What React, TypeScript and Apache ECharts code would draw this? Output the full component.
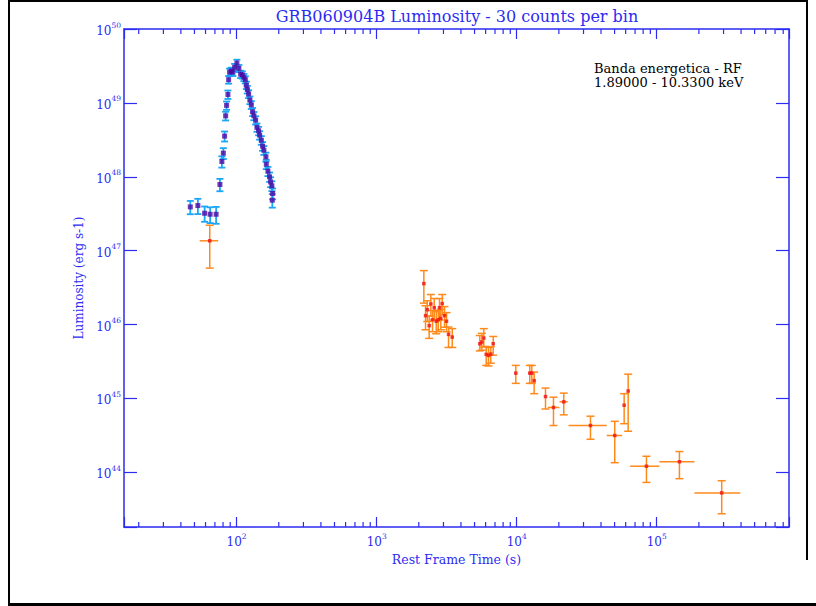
import { useEffect, useRef } from "react";
import * as echarts from "echarts";

// ---- axis ranges ----
const X_MIN = 15.7;
const X_MAX = 8.8e5;
const Y_MIN = 1.82e43;
const Y_MAX = 1e50;

// minor tick positions on the time axis (2..9 x each decade)
const minorTicks = [
  20, 30, 40, 50, 60, 70, 80, 90,
  200, 300, 400, 500, 600, 700, 800, 900,
  2000, 3000, 4000, 5000, 6000, 7000, 8000, 9000,
  20000, 30000, 40000, 50000, 60000, 70000, 80000, 90000,
  200000, 300000, 400000, 500000, 600000, 700000, 800000,
];

// ---- prompt emission (purple points, cyan error bars) ----
const batTime = [
  46.7, 52.9, 59.1, 64.7, 71.4, 76.0, 78.5, 80.4, 82.1, 83.5, 84.8, 86.7, 87.7,
  89.1, 91.7, 94.1, 96.8, 100.5, 103.8, 106.8, 109.8, 112.7, 115.4, 117.3, 119.2,
  121.8, 124.4, 127.3, 130.1, 132.9, 136.7, 139.6, 143.6, 146.0, 150.1, 153.3,
  156.6, 161.9, 162.9, 167.3, 172.0, 174.9, 178.6, 180.7, 179.8,
];
const batLum = [
  3.91e47, 4.08e47, 3.21e47, 3.11e47, 3.11e47, 7.87e47, 1.61e48, 2.09e48, 3.55e48,
  6.68e48, 9.25e48, 1.3e49, 2.06e49, 2.61e49, 2.7e49, 2.61e49, 3.03e49, 3.46e49,
  2.93e49, 2.45e49, 2.4e49, 2.22e49, 2.06e49, 1.74e49, 1.52e49, 1.32e49, 1.09e49,
  9.42e48, 7.57e48, 6.68e48, 5.84e48, 4.66e48, 4.19e48, 3.66e48, 3.13e48, 2.6e48,
  2.29e48, 1.86e48, 1.48e48, 1.19e48, 9.98e47, 8.53e47, 7.54e47, 5.94e47, 4.82e47,
];
const batErr = [
  0.8e47, 0.95e47, 0.75e47, 0.75e47, 0.8e47, 1.5e47, 2.8e47, 3.5e47, 5.5e47,
  9e47, 1.2e48, 1.7e48, 2.4e48, 3.0e48, 3.0e48, 3.0e48, 3.4e48, 3.8e48,
  3.3e48, 2.8e48, 2.7e48, 2.5e48, 2.3e48, 2.0e48, 1.8e48, 1.6e48, 1.3e48,
  1.15e48, 9.5e47, 8.5e47, 7.5e47, 6.0e47, 5.5e47, 4.8e47, 4.2e47, 3.5e47,
  3.1e47, 2.6e47, 2.1e47, 1.7e47, 1.45e47, 1.3e47, 1.15e47, 1.0e47, 1.0e47,
];

// ---- afterglow (red points, orange error bars) ----
const xrtTime = [
  2173, 2438, 2297, 2234, 2373, 2577, 2812, 2939, 2506, 2663, 2753, 2872, 3053,
  3155, 3261, 3465, 5453, 5634, 5823, 6057, 6290, 6532, 6797, 9854, 12400, 12820,
  13330, 16060, 18310, 21690, 33640, 50130, 58530, 62520, 84440, 145200, 291000,
  64.3,
];
const xrtTimeLo = [
  null, null, null, null, null, null, null, null, null, null, null, null, null,
  null, null, null, null, null, null, null, null, null, null, null, null, null,
  null, null, 16670, 20210, 23440, 43950, null, null, 64570, 104500, 185800,
  54.5,
];
const xrtTimeHi = [
  null, null, null, null, null, null, null, null, null, null, null, null, null,
  null, null, null, null, null, null, null, null, null, null, null, null, null,
  null, null, 20210, 23160, 43950, 56620, null, null, 104500, 185800, 395400,
  73.9,
];
const xrtLum = [
  3.58e46, 1.9e46, 1.59e46, 1.32e46, 9.67e45, 1.69e46, 1.69e46, 1.92e46, 1.16e46,
  1.11e46, 1.16e46, 1.21e46, 1.32e46, 1.11e46, 7.36e45, 6.77e45, 5.5e45, 5.8e45,
  6.57e45, 3.95e45, 3.83e45, 3.98e45, 5.5e45, 2.2e45, 2.2e45, 2.2e45, 1.74e45,
  1.06e45, 7.55e44, 9.0e44, 4.3e44, 3.15e44, 8.1e44, 1.26e45, 1.21e44, 1.39e44,
  5.27e43, 1.36e47,
];
const xrtLumLo = [
  1.95e46, 1.3e46, 1.1e46, 0.85e46, 6.5e45, 1.15e46, 1.15e46, 1.35e46, 0.8e46,
  0.75e46, 0.8e46, 0.85e46, 0.92e46, 0.8e46, 4.9e45, 4.9e45, 4.4e45, 4.5e45,
  4.95e45, 2.8e45, 2.75e45, 3.0e45, 3.85e45, 1.6e45, 1.6e45, 1.6e45, 1.16e45,
  7.2e44, 4.3e44, 6.0e44, 2.8e44, 1.35e44, 4.55e44, 3.6e44, 7.3e43, 8.2e43,
  2.75e43, 5.8e46,
];
const xrtLumHi = [
  5.37e46, 2.55e46, 2.1e46, 1.8e46, 1.3e46, 2.25e46, 2.25e46, 2.55e46, 1.55e46,
  1.5e46, 1.55e46, 1.6e46, 1.75e46, 1.45e46, 9.25e45, 8.8e45, 7.1e45, 7.6e45,
  8.8e45, 5.05e45, 4.9e45, 5.0e45, 6.9e45, 2.8e45, 2.8e45, 2.8e45, 2.27e45,
  1.38e45, 1.04e45, 1.18e45, 5.75e44, 4.9e44, 1.16e45, 2.13e45, 1.65e44, 1.91e44,
  7.7e43, 2.21e47,
];

const AXIS_BLUE = "#2b2bf2";
const FONT = "DejaVu Serif";

const powerLabel = (v: number) => {
  const e = Math.log10(v);
  const r = Math.round(e);
  return Math.abs(e - r) < 1e-6 ? `{b|10}{s|${r}}` : "";
};

const labelRich = {
  b: { fontSize: 12, fontFamily: FONT, color: AXIS_BLUE, lineHeight: 16, verticalAlign: "bottom" },
  s: { fontSize: 7.5, fontFamily: FONT, color: AXIS_BLUE, lineHeight: 16, verticalAlign: "top" },
};

// error bar glyph: vertical bar with caps, optional horizontal bar
function errorBarRenderer(color: string, width: number, capHalf: number) {
  return (_params: any, api: any) => {
    const t = api.value(0);
    const L = api.value(1);
    const tLo = api.value(2);
    const tHi = api.value(3);
    const lLo = api.value(4);
    const lHi = api.value(5);
    const style = { stroke: color, lineWidth: width };
    const top = api.coord([t, lHi]);
    const bot = api.coord([t, lLo]);
    const children: any[] = [
      { type: "line", shape: { x1: top[0], y1: top[1], x2: bot[0], y2: bot[1] }, style },
      { type: "line", shape: { x1: top[0] - capHalf, y1: top[1], x2: top[0] + capHalf, y2: top[1] }, style },
      { type: "line", shape: { x1: bot[0] - capHalf, y1: bot[1], x2: bot[0] + capHalf, y2: bot[1] }, style },
    ];
    if (tHi > tLo) {
      const l = api.coord([tLo, L]);
      const r = api.coord([tHi, L]);
      children.push({ type: "line", shape: { x1: l[0], y1: l[1], x2: r[0], y2: r[1] }, style });
    }
    return { type: "group", children };
  };
}

export default function App() {
  const ref = useRef<HTMLDivElement>(null);

  useEffect(() => {
    if (!ref.current) return;
    const chart = echarts.init(ref.current, null, { renderer: "svg" });

    const batBars = batTime.map((t, i) => [t, batLum[i], t, t, batLum[i] - batErr[i], batLum[i] + batErr[i]]);
    const batPts = batTime.map((t, i) => [t, batLum[i]]);
    const xrtBars = xrtTime.map((t, i) => [
      t,
      xrtLum[i],
      xrtTimeLo[i] ?? t,
      xrtTimeHi[i] ?? t,
      xrtLumLo[i],
      xrtLumHi[i],
    ]);
    const xrtPts = xrtTime.map((t, i) => [t, xrtLum[i]]);

    const axisLine = { show: true, lineStyle: { color: AXIS_BLUE, width: 1.5 } };
    const tickStyle = { color: AXIS_BLUE, width: 1.2 };

    chart.setOption({
      animation: false,
      backgroundColor: "#ffffff",
      grid: { left: 124, top: 29, width: 665, height: 498, containLabel: false },
      xAxis: [
        {
          type: "log",
          min: X_MIN,
          max: X_MAX,
          position: "bottom",
          axisLine,
          axisTick: { inside: true, length: 10, lineStyle: tickStyle },
          splitLine: { show: false },
          axisLabel: { formatter: powerLabel, margin: 5, rich: labelRich, hideOverlap: false },
          name: "Rest Frame Time (s)",
          nameLocation: "middle",
          nameGap: 20,
          nameTextStyle: { color: AXIS_BLUE, fontFamily: FONT, fontSize: 12.5 },
        },
        {
          type: "log",
          min: X_MIN,
          max: X_MAX,
          position: "top",
          axisLine,
          axisTick: { inside: true, length: 10, lineStyle: tickStyle },
          splitLine: { show: false },
          axisLabel: { show: false },
        },
      ],
      yAxis: [
        {
          type: "log",
          min: Y_MIN,
          max: Y_MAX,
          position: "left",
          axisLine,
          axisTick: { inside: true, length: 13, lineStyle: tickStyle },
          splitLine: { show: false },
          axisLabel: { formatter: powerLabel, margin: 3, rich: labelRich, hideOverlap: false },
          name: "Luminosity (erg s-1)",
          nameLocation: "middle",
          nameGap: 33,
          nameRotate: 90,
          nameTextStyle: { color: AXIS_BLUE, fontFamily: FONT, fontSize: 12 },
        },
        {
          type: "log",
          min: Y_MIN,
          max: Y_MAX,
          position: "right",
          axisLine,
          axisTick: { inside: true, length: 13, lineStyle: tickStyle },
          splitLine: { show: false },
          axisLabel: { show: false },
        },
      ],
      graphic: [
        { type: "rect", shape: { x: 8, y: 0, width: 800, height: 2 }, style: { fill: "#000" } },
        { type: "rect", shape: { x: 8, y: 0, width: 2, height: 606 }, style: { fill: "#000" } },
        { type: "rect", shape: { x: 806, y: 0, width: 2, height: 560 }, style: { fill: "#000" } },
        { type: "rect", shape: { x: 8, y: 603, width: 808, height: 3 }, style: { fill: "#000" } },
        {
          type: "text",
          x: 457,
          y: 16,
          style: {
            text: "GRB060904B Luminosity - 30 counts per bin",
            fill: AXIS_BLUE,
            font: `16px '${FONT}'`,
            textAlign: "center",
            textVerticalAlign: "middle",
          },
        },
        {
          type: "text",
          x: 594,
          y: 68,
          style: { text: "Banda energetica - RF", fill: "#000", font: `13px '${FONT}'`, textVerticalAlign: "middle" },
        },
        {
          type: "text",
          x: 594,
          y: 82,
          style: { text: "1.89000 - 10.3300 keV", fill: "#000", font: `13px '${FONT}'`, textVerticalAlign: "middle" },
        },
      ],
      series: [
        {
          type: "custom",
          name: "minor ticks",
          silent: true,
          data: minorTicks.map((v) => [v, Y_MIN]),
          encode: { x: 0, y: 1 },
          renderItem: (_p: any, api: any) => {
            const v = api.value(0);
            const b = api.coord([v, Y_MIN]);
            const t = api.coord([v, Y_MAX]);
            const style = { stroke: AXIS_BLUE, lineWidth: 1.2 };
            return {
              type: "group",
              children: [
                { type: "line", shape: { x1: b[0], y1: b[1], x2: b[0], y2: b[1] - 5 }, style },
                { type: "line", shape: { x1: t[0], y1: t[1], x2: t[0], y2: t[1] + 5 }, style },
              ],
            };
          },
          z: 1,
        },
        {
          type: "custom",
          name: "prompt errors",
          silent: true,
          data: batBars,
          encode: { x: 0, y: 1 },
          renderItem: errorBarRenderer("#1aa6f7", 1.8, 3.5),
          z: 2,
        },
        {
          type: "scatter",
          name: "prompt",
          silent: true,
          data: batPts,
          symbol: "rect",
          symbolSize: 5,
          itemStyle: { color: "#4f07a3" },
          z: 3,
        },
        {
          type: "custom",
          name: "afterglow errors",
          silent: true,
          data: xrtBars,
          encode: { x: 0, y: 1 },
          renderItem: errorBarRenderer("#ff8a1c", 1.5, 4),
          z: 4,
        },
        {
          type: "scatter",
          name: "afterglow",
          silent: true,
          data: xrtPts,
          symbol: "rect",
          symbolSize: 3.5,
          itemStyle: { color: "#f01010" },
          z: 5,
        },
      ],
    });

    return () => chart.dispose();
  }, []);

  return (
    <div
      ref={ref}
      style={{ position: "fixed", left: 0, top: 0, width: 816, height: 606, background: "#fff" }}
    />
  );
}
